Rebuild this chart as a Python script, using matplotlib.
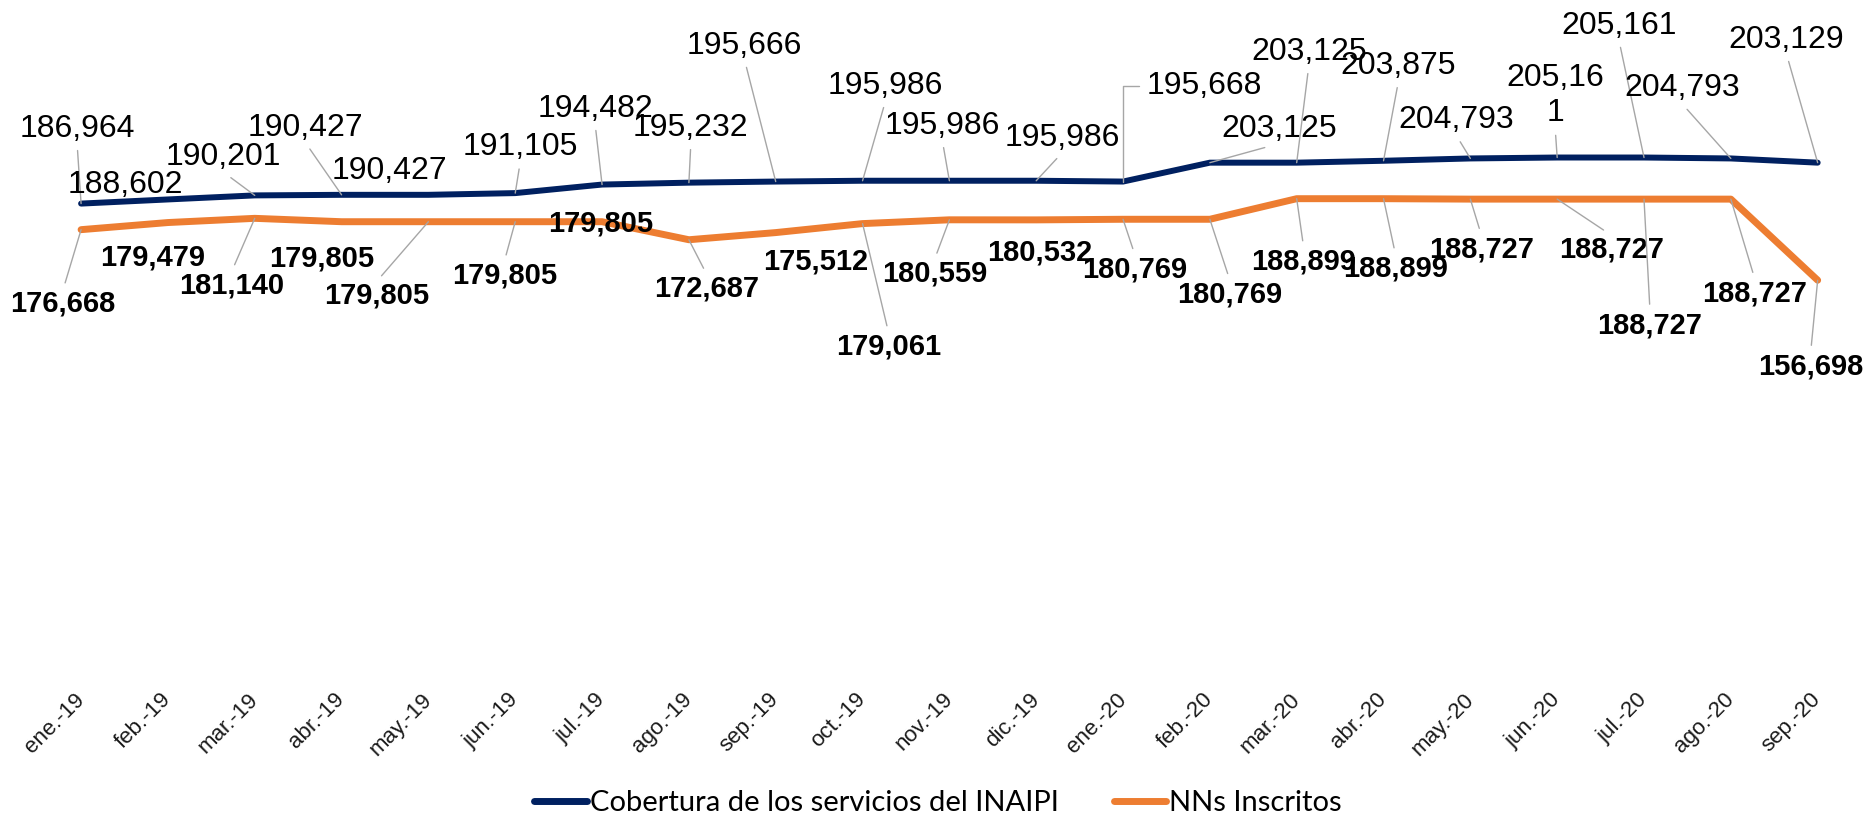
import matplotlib
matplotlib.use('Agg')
import matplotlib.pyplot as plt
from matplotlib import font_manager

# data
meses = ['ene.-19', 'feb.-19', 'mar.-19', 'abr.-19', 'may.-19', 'jun.-19', 'jul.-19',
         'ago.-19', 'sep.-19', 'oct.-19', 'nov.-19', 'dic.-19', 'ene.-20', 'feb.-20',
         'mar.-20', 'abr.-20', 'may.-20', 'jun.-20', 'jul.-20', 'ago.-20', 'sep.-20']
cobertura = [186964, 188602, 190201, 190427, 190427, 191105, 194482, 195232, 195666,
             195986, 195986, 195986, 195668, 203125, 203125, 203875, 204793, 205161,
             205161, 204793, 203129]
inscritos = [176668, 179479, 181140, 179805, 179805, 179805, 179805, 172687, 175512,
             179061, 180559, 180532, 180769, 180769, 188899, 188899, 188727, 188727,
             188727, 188727, 156698]

# label placement (pixel offsets from the point) and whether a leader line is drawn
off_cob = [(-4, 75), (-43, 14), (-31, 38), (-36, 67), (-39, 24), (5, 46), (-7, 76),
           (2, 55), (-31, 136), (23, 95), (-7, 55), (26, 43), (81, 96), (69, 34),
           (12, 111), (15, 95), (-14, 38), (-2, 62), (-25, 132), (-49, 70), (-31, 123)]
lead_cob = [1, 0, 1, 1, 0, 1, 1, 1, 1, 1, 1, 1, 2, 1, 1, 1, 1, 1, 1, 1, 1]
off_ins = [(-18, -74), (-15, -35), (-23, -67), (-20, -37), (-52, -74), (-11, -54),
           (-1, -2), (18, -49), (40, -29), (26, -123), (-15, -54), (4, -33), (12, -50),
           (20, -75), (7, -63), (12, -70), (11, -50), (54, -50), (6, -126), (24, -94),
           (-7, -86)]
lead_ins = [1, 0, 1, 0, 1, 1, 0, 1, 0, 1, 1, 0, 1, 1, 1, 1, 1, 1, 1, 1, 1]


def pick(*names):
    have = {f.name for f in font_manager.fontManager.ttflist}
    for n in names:
        if n in have:
            return n
    return 'DejaVu Sans'


sans = pick('Liberation Sans', 'Arial')
narrow = pick('Liberation Sans Narrow', 'Lato')

azul = '#002060'
naranja = '#ED7D31'
gris = '#A6A6A6'

fig = plt.figure(figsize=(18.65, 8.19), dpi=100)
ax = fig.add_axes([0.0202, 0.1734, 0.9777, 0.7729])

x = list(range(len(meses)))
ax.plot(x, cobertura, color=azul, lw=4.3, solid_capstyle='round',
        label='Cobertura de los servicios del INAIPI', zorder=3)
ax.plot(x, inscritos, color=naranja, lw=5, solid_capstyle='round',
        label='NNs Inscritos', zorder=3)

for i, v in enumerate(cobertura):
    txt = f'{v:,}'
    if i == 17:
        txt = txt[:-1] + '\n' + txt[-1]
    arrow = None
    if lead_cob[i] == 1:
        arrow = dict(arrowstyle='-', color=gris, lw=1, relpos=(0.5, 0.0),
                     shrinkA=3, shrinkB=0)
    elif lead_cob[i] == 2:
        arrow = dict(arrowstyle='-', color=gris, lw=1, relpos=(0.0, 0.5),
                     shrinkA=3, shrinkB=0,
                     connectionstyle='angle,angleA=0,angleB=90,rad=0')
    ax.annotate(txt, (i, v), xytext=off_cob[i], textcoords='offset pixels',
                ha='center', va='center', fontsize=23, family=sans,
                color='black', arrowprops=arrow, zorder=4, linespacing=1.25)

for i, v in enumerate(inscritos):
    arrow = None
    if lead_ins[i]:
        arrow = dict(arrowstyle='-', color=gris, lw=1, relpos=(0.5, 1.0),
                     shrinkA=3, shrinkB=0)
    ax.annotate(f'{v:,}', (i, v), xytext=off_ins[i], textcoords='offset pixels',
                ha='center', va='center', fontsize=21, family=sans,
                fontweight='bold', color='black', arrowprops=arrow, zorder=4)

ax.set_xlim(-0.5, len(meses) - 0.5)
ax.set_ylim(0, 250000)
ax.set_yticks([])
ax.set_xticks(x)
ax.set_xticklabels(meses, rotation=45, ha='right', va='center',
                   rotation_mode='anchor', fontsize=16, family=sans, color='#1a1a1a')
ax.tick_params(axis='x', length=0, pad=14)
for s in ax.spines.values():
    s.set_visible(False)

leg = fig.legend(loc='center', bbox_to_anchor=(0.503, 0.019), ncol=2, frameon=False,
                 prop={'family': narrow, 'size': 21}, handlelength=1.8,
                 handletextpad=0.1, columnspacing=1.9)
for h in leg.get_lines():
    h.set_linewidth(5)

fig.savefig('out.png', dpi=100)
